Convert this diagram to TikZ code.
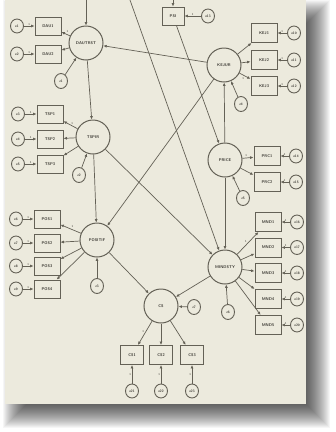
\documentclass[tikz,border=0pt]{standalone}
\usetikzlibrary{arrows.meta,shapes.geometric}
\definecolor{paper}{RGB}{236,234,221}
\definecolor{ink}{RGB}{100,97,86}
\definecolor{txt}{RGB}{60,58,52}
\begin{document}
\begin{tikzpicture}[x=1pt,y=-1pt,
  lat/.style={circle,draw=ink,line width=1pt,minimum size=34pt,inner sep=0pt,
    fill=paper,text=txt,font=\fontsize{4}{4.5}\selectfont\sffamily\bfseries},
  ind/.style={rectangle,draw=ink,line width=1pt,minimum width=26pt,minimum height=18pt,
    inner sep=0pt,fill=paper,text=txt,font=\fontsize{4}{4.5}\selectfont\sffamily\bfseries},
  err/.style={ellipse,draw=ink,line width=0.9pt,minimum width=13pt,minimum height=14pt,
    inner sep=0pt,fill=paper,text=txt,font=\fontsize{3.4}{3.8}\selectfont\sffamily\bfseries},
  res/.style={err,minimum height=15pt},
  arr/.style={draw=ink,line width=0.7pt,-{Latex[length=3.4pt,width=3pt]}},
  one/.style={font=\fontsize{3}{3}\selectfont\sffamily,text=txt,inner sep=0.6pt}
]
% page and its drop shadow
\useasboundingbox (0,0) rectangle (336,432);
\fill[white] (0,0) rectangle (336,432);
\foreach \i in {0,...,23}{
  \fill[black,opacity=0.036] (3+\i,0+\i) rectangle (330-\i,428-\i);
}
\fill[paper] (5,0) rectangle (306,404);

% latent variables
\node[lat] (A) at (86,43)  {DAUTRST};
\node[lat] (B) at (93,137) {TSPIR};
\node[lat] (C) at (97,240) {POSITIF};
\node[lat] (D) at (224,65) {KEJUR};
\node[lat] (E) at (225,160) {PRICE};
\node[lat] (F) at (225,267) {MINDSTY};
\node[lat] (G) at (161,306) {CS};

% observed indicators
\node[ind] (A1) at (48,26)  {DAU1};
\node[ind] (A2) at (48,54)  {DAU2};
\node[ind] (B1) at (50,114) {TSP1};
\node[ind] (B2) at (50,139) {TSP2};
\node[ind] (B3) at (50,164) {TSP3};
\node[ind] (C1) at (47,219) {POS1};
\node[ind] (C2) at (47,243) {POS2};
\node[ind] (C3) at (47,266) {POS3};
\node[ind] (C4) at (47,289) {POS4};
\node[ind,minimum height=19pt] (D1) at (264,33) {KEJ1};
\node[ind,minimum height=19pt] (D2) at (264,60) {KEJ2};
\node[ind,minimum height=19pt] (D3) at (264,86) {KEJ3};
\node[ind,minimum width=22pt] (T) at (173,16) {PSI};
\node[ind,minimum height=19pt] (E1) at (267,156) {PRC1};
\node[ind,minimum height=19pt] (E2) at (267,182) {PRC2};
\node[ind,minimum height=19pt] (F1) at (268,222) {MND1};
\node[ind,minimum height=19pt] (F2) at (268,247.5) {MND2};
\node[ind,minimum height=19pt] (F3) at (268,273) {MND3};
\node[ind,minimum height=19pt] (F4) at (268,299) {MND4};
\node[ind,minimum height=19pt] (F5) at (268,325) {MND5};
\node[ind,minimum width=23pt,minimum height=19pt] (G1) at (132,355) {CS1};
\node[ind,minimum width=23pt,minimum height=19pt] (G2) at (161,355) {CS2};
\node[ind,minimum width=23pt,minimum height=19pt] (G3) at (192,355) {CS3};

% measurement errors
\node[err] (eA1) at (17,26)  {e1};
\node[err] (eA2) at (17,54)  {e2};
\node[err] (eB1) at (18,114) {e3};
\node[err] (eB2) at (18,139) {e4};
\node[err] (eB3) at (18,164) {e5};
\node[err] (eC1) at (16,219) {e6};
\node[err] (eC2) at (16,243) {e7};
\node[err] (eC3) at (16,266) {e8};
\node[err] (eC4) at (16,289) {e9};
\node[err] (eD1) at (294,33) {e10};
\node[err] (eD2) at (294,60) {e11};
\node[err] (eD3) at (294,86) {e12};
\node[err] (eT)  at (208,16) {e13};
\node[err] (eE1) at (296,156) {e14};
\node[err] (eE2) at (296,182) {e15};
\node[err] (eF1) at (297,222) {e16};
\node[err] (eF2) at (297,247.5) {e17};
\node[err] (eF3) at (297,273) {e18};
\node[err] (eF4) at (297,299) {e19};
\node[err] (eF5) at (297,325) {e20};
\node[err] (eG1) at (132,391) {e21};
\node[err] (eG2) at (161,391) {e22};
\node[err] (eG3) at (192,391) {e23};

% structural residuals
\node[res] (zA) at (61,81)   {z1};
\node[res] (zB) at (79,175)  {z2};
\node[res] (zC) at (97,286)  {z3};
\node[res] (zD) at (241,104) {z4};
\node[res] (zE) at (243,198) {z5};
\node[res] (zF) at (228,312) {z6};
\node[res] (zG) at (194,307) {z7};

% paths entering from above
\coordinate (inA) at (86,0);
\coordinate (inF) at (130,0);
\coordinate (inT) at (173,0);
\draw[arr] (inA) -- (A);
\draw[arr] (inF) -- (F);
\draw[arr] (inT) -- (T);

% structural paths
\draw[arr] (A) -- (B);
\draw[arr] (B) -- (C);
\draw[arr] (D) -- (A);
\draw[arr] (D) -- (C);
\draw[arr] (B) -- (F);
\draw[arr] (T) -- (E);
\draw[arr] (E) -- (D);
\draw[arr] (E) -- (F);
\draw[arr] (C) -- (G);
\draw[arr] (F) -- (G);

% loadings
\draw[arr] (A) -- node[one,above right] {1} (A1);
\draw[arr] (A) -- (A2);
\draw[arr] (B) -- node[one,above right] {1} (B1);
\draw[arr] (B) -- (B2);
\draw[arr] (B) -- (B3);
\draw[arr] (C) -- node[one,above right] {1} (C1);
\draw[arr] (C) -- (C2);
\draw[arr] (C) -- (C3);
\draw[arr] (C) -- (C4);
\draw[arr] (D) -- (D1);
\draw[arr] (D) -- (D2);
\draw[arr] (D) -- node[one,below left] {1} (D3);
\draw[arr] (E) -- node[one,above left] {1} (E1);
\draw[arr] (E) -- (E2);
\draw[arr] (F) -- node[one,above left] {1} (F1);
\draw[arr] (F) -- (F2);
\draw[arr] (F) -- (F3);
\draw[arr] (F) -- (F4);
\draw[arr] (F) -- (F5);
\draw[arr] (G) -- node[one,above left] {1} (G1);
\draw[arr] (G) -- (G2);
\draw[arr] (G) -- (G3);

% error terms
\foreach \e/\b in {eA1/A1,eA2/A2,eB1/B1,eB2/B2,eB3/B3,eC1/C1,eC2/C2,eC3/C3,eC4/C4,
                   eD1/D1,eD2/D2,eD3/D3,eT/T,eE1/E1,eE2/E2,
                   eF1/F1,eF2/F2,eF3/F3,eF4/F4,eF5/F5}{
  \draw[arr] (\e) -- node[one,above] {1} (\b);
}
\foreach \e/\b in {eG1/G1,eG2/G2,eG3/G3}{
  \draw[arr] (\e) -- node[one,left] {1} (\b);
}
\foreach \z/\l in {zA/A,zB/B,zC/C,zD/D,zE/E,zF/F,zG/G}{
  \draw[arr] (\z) -- (\l);
}
\end{tikzpicture}
\end{document}
